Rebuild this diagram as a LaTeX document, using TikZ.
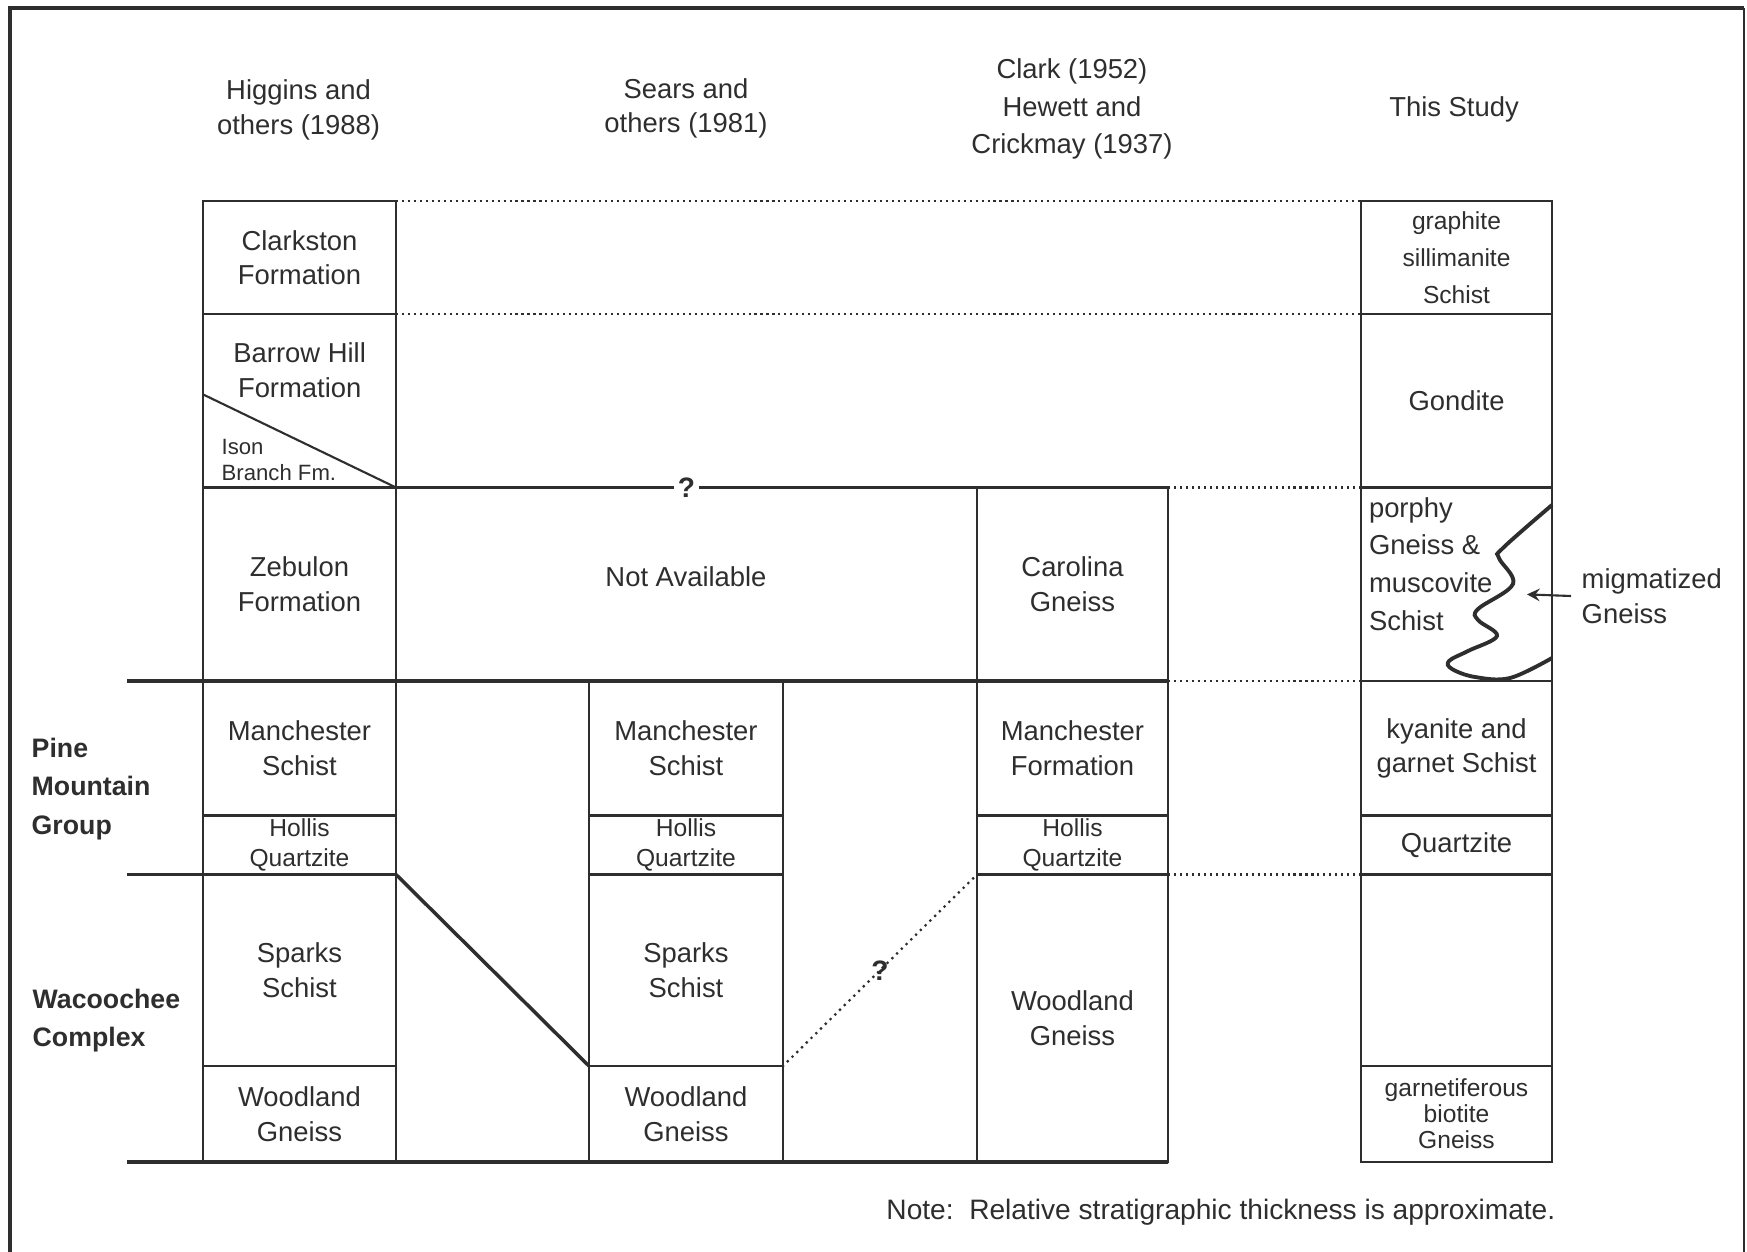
\documentclass[tikz,border=0pt]{standalone}
\usepackage{fontspec}
\setmainfont{Liberation Sans}
\usepackage{xcolor}

\definecolor{ink}{HTML}{2E2E2E}

\tikzset{
	unit/.style={draw, line width=0.6pt, inner sep=0pt, outer sep=0pt, align=center, font=\fontsize{7.8}{9.8}\selectfont},
	band/.style n args={4}{at={({(#1+#2)/2},{(#3+#4)/2})}, minimum width={(#2-#1)*0.1mm}, minimum height={(#4-#3)*0.1mm}},
	small/.style={font=\fontsize{7}{8.5}\selectfont},
	corr/.style={line width=0.6pt, dash pattern=on 0.6pt off 1.1pt},
	guess/.style={line width=0.9pt, line cap=round, dash pattern=on 0pt off 1.9pt},
	base/.style={line width=1.1pt},
	qmark/.style={fill=white, inner sep=1.2pt, font=\fontsize{8}{9}\selectfont\bfseries},
	head/.style={align=center, font=\fontsize{7.8}{9.8}\selectfont},
	side/.style={anchor=west, align=left, inner sep=0pt, font=\fontsize{7.6}{11}\selectfont\bfseries},
}

\begin{document}
\begin{tikzpicture}[x=0.1mm, y=-0.1mm, color=ink]
			\def\xAl{203};  \def\xAr{396};
			\def\xBl{589};  \def\xBr{783};
			\def\xCl{977};  \def\xCr{1168};
			\def\xDl{1361}; \def\xDr{1552};

			\def\yA{201};  \def\yB{314};
			\def\yC{487.5}; \def\yD{681};
			\def\yE{815.5}; \def\yF{874.5};
			\def\yG{1066}; \def\yH{1162};

			\useasboundingbox (0,0) rectangle (1747,1252);

			\begin{scope}
				\draw [line width=1.3pt] (10,1252) -- (10,8) -- (1744,8);
				\draw [line width=0.6pt] (1744,8) -- (1744,1252);
			\end{scope}

			\begin{scope}
				\node [head] (hig-head) at (298.6,110) {Higgins and\\others (1988)};
				\node [head] (sea-head) at (686,108.5) {Sears and\\others (1981)};
				\node [head, font=\fontsize{7.8}{10.7}\selectfont] (cla-head) at (1072,109) {Clark (1952)\\Hewett and\\Crickmay (1937)};
				\node [head] (stu-head) at (1454,109.5) {This Study};
			\end{scope}

			\begin{scope}
				\node [unit, band={\xAl}{\xAr}{\yA}{\yB}] (hig-clark) {Clarkston\\Formation};
				\node [unit, band={\xAl}{\xAr}{\yB}{\yC}] (hig-barrow) {};
				\node [unit, draw=none] (hig-barrow-txt) at (299.7,370) {Barrow Hill\\Formation};
				\coordinate (ison-top) at (\xAl,394.4);
				\draw [line width=0.6pt] (ison-top) -- (hig-barrow.south east);
				\node [align=left, anchor=west, inner sep=0pt, font=\fontsize{6.3}{7.4}\selectfont] (hig-ison) at (221,460) {Ison\\Branch Fm.};
				\node [unit, band={\xAl}{\xAr}{\yC}{\yD}] (hig-zeb) {Zebulon\\Formation};
				\node [unit, band={\xAl}{\xAr}{\yD}{\yE}] (hig-manch) {Manchester\\Schist};
				\node [unit, small, band={\xAl}{\xAr}{\yE}{\yF}] (hig-hollis) {Hollis\\Quartzite};
				\node [unit, band={\xAl}{\xAr}{\yF}{\yG}] (hig-sparks) {Sparks\\Schist};
				\node [unit, band={\xAl}{\xAr}{\yG}{\yH}] (hig-wood) {Woodland\\Gneiss};
			\end{scope}

			\begin{scope}
				\node [unit, band={\xAr}{\xCl}{\yC}{\yD}] (notavail) {};
				\node [unit, draw=none] (notavail-txt) at (686,577) {Not Available};
				\node [qmark] (q-top) at (notavail.north) {?};
			\end{scope}

			\begin{scope}
				\node [unit, band={\xBl}{\xBr}{\yD}{\yE}] (sea-manch) {Manchester\\Schist};
				\node [unit, small, band={\xBl}{\xBr}{\yE}{\yF}] (sea-hollis) {Hollis\\Quartzite};
				\node [unit, band={\xBl}{\xBr}{\yF}{\yG}] (sea-sparks) {Sparks\\Schist};
				\node [unit, band={\xBl}{\xBr}{\yG}{\yH}] (sea-wood) {Woodland\\Gneiss};
			\end{scope}

			\begin{scope}
				\node [unit, band={\xCl}{\xCr}{\yC}{\yD}] (cla-carol) {Carolina\\Gneiss};
				\node [unit, band={\xCl}{\xCr}{\yD}{\yE}] (cla-manch) {Manchester\\Formation};
				\node [unit, small, band={\xCl}{\xCr}{\yE}{\yF}] (cla-hollis) {Hollis\\Quartzite};
				\node [unit, band={\xCl}{\xCr}{\yF}{\yH}] (cla-wood) {Woodland\\Gneiss};
			\end{scope}

			\begin{scope}
				\node [unit, font=\fontsize{7}{10.6}\selectfont, band={\xDl}{\xDr}{\yA}{\yB}] (stu-graph) {graphite\\sillimanite\\Schist};
				\node [unit, band={\xDl}{\xDr}{\yB}{\yC}] (stu-gond) {Gondite};
				\node [unit, band={\xDl}{\xDr}{\yC}{\yD}] (stu-porphy) {};
				\node [unit, draw=none, align=left, anchor=west, font=\fontsize{7.8}{10.7}\selectfont] (stu-porphy-txt) at (1369,564) {porphy\\Gneiss \&\\muscovite\\Schist};
				\node [unit, band={\xDl}{\xDr}{\yD}{\yE}] (stu-kyan) {kyanite and\\garnet Schist};
				\node [unit, band={\xDl}{\xDr}{\yE}{\yF}] (stu-qtz) {Quartzite};
				\node [unit, band={\xDl}{\xDr}{\yF}{\yG}] (stu-blank) {};
				\node [unit, font=\fontsize{7}{7.4}\selectfont, band={\xDl}{\xDr}{\yG}{\yH}] (stu-garnet) {garnetiferous\\biotite\\Gneiss};
				\draw [line width=1.1pt] plot [smooth, tension=0.6] coordinates {(1552,505) (1503,548) (1499,558) (1513,584) (1478,609) (1478,620) (1497,636) (1468,651) (1449,661) (1452,669) (1475,677) (1510,678) (1552,658)};
			\end{scope}

			\begin{scope}
				\coordinate (pmg-top) at (127,\yD);
				\coordinate (wac-top) at (127,\yF);
				\coordinate (wac-bot) at (127,\yH);
				\draw [base] (pmg-top) -- (cla-carol.south east);
				\draw [base] (wac-top) -- (hig-hollis.south east);
				\draw [base] (wac-bot) -- (cla-wood.south east);
				\draw [line width=1pt] (hig-hollis.south east) -- (sea-sparks.south west);
				\draw [guess] (sea-sparks.south east) -- node [qmark, fill=none] (q-low) {?} (cla-wood.north west);
			\end{scope}

			\begin{scope}[corr]
				\draw (hig-clark.north east) -- (stu-graph.north west);
				\draw (hig-clark.south east) -- (stu-graph.south west);
				\draw (cla-carol.north east) -- (stu-porphy.north west);
				\draw (cla-carol.south east) -- (stu-porphy.south west);
				\draw (cla-hollis.south east) -- (stu-qtz.south west);
			\end{scope}

			\begin{scope}
				\node [side] (pmg) at (31,789) {Pine\\Mountain\\Group};
				\node [side] (wac) at (32,1020.5) {Wacoochee\\Complex};
				\node [head, anchor=west, align=left, inner sep=0pt] (mig) at (1581,596) {migmatized\\Gneiss};
				\coordinate (mig-tip) at (1527,594.4);
				\draw [-stealth, line width=0.6pt] ([xshift=-1mm]mig.west) -- (mig-tip);
				\node [head, anchor=east, inner sep=0pt, font=\fontsize{8}{9.8}\selectfont] (note) at (1556,1212) {Note:\ \ Relative stratigraphic thickness is approximate.};
			\end{scope}
		\end{tikzpicture}
\end{document}
